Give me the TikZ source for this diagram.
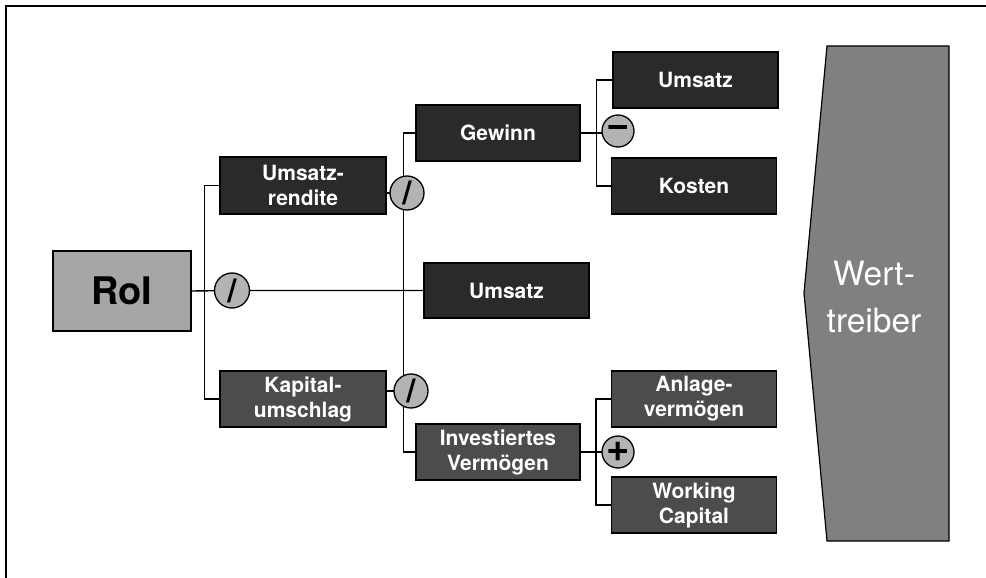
\documentclass[tikz,border=0pt]{standalone}
\usepackage{fontspec}
\setmainfont{TeX Gyre Heros}
\definecolor{boxdark}{HTML}{2A2A2A}
\definecolor{boxmid}{HTML}{4C4C4C}
\definecolor{roifill}{HTML}{A6A6A6}
\definecolor{circfill}{HTML}{B3B3B3}
\definecolor{wertfill}{HTML}{808080}
\begin{document}
\begin{tikzpicture}[x=1pt,y=-1pt,
  basebox/.style={draw=black, line width=1.3pt, text=white, align=center, inner sep=0pt,
    font=\bfseries\fontsize{21}{25}\selectfont, minimum height=56pt},
  darkbox/.style={basebox, fill=boxdark},
  midbox/.style={basebox, fill=boxmid},
  opcirc/.style={circle, draw=black, line width=1.3pt, fill=circfill, inner sep=0pt},
  optext/.style={inner sep=0pt, font=\bfseries\fontsize{33}{33}\selectfont},
  signtext/.style={inner sep=0pt, font=\bfseries\fontsize{40}{40}\selectfont},
  conn/.style={draw=black, line width=1.4pt}]
\useasboundingbox (0,0) rectangle (986,578);
% frame
\coordinate (fa) at (6,578);
\coordinate (fb) at (6,6);
\coordinate (fc) at (986,6);
\draw[line width=1.2pt] (fa) -- (fb) -- (fc);

% nodes
\node[basebox, fill=roifill, text=black, minimum width=138pt, minimum height=80pt,
      font=\bfseries\fontsize{38}{42}\selectfont] (roi) at (122,291) {RoI};
\node[darkbox, minimum width=166pt, minimum height=57pt] (ur) at (303,185.5) {Umsatz-\\rendite};
\node[midbox, minimum width=166pt] (ku) at (303,399) {Kapital-\\umschlag};
\node[darkbox, minimum width=164pt] (gew) at (498,133) {Gewinn};
\node[darkbox, minimum width=165pt, minimum height=55pt] (ums2) at (506.5,290.5) {Umsatz};
\node[midbox, minimum width=164pt] (iv) at (498,452) {Investiertes\\Vermögen};
\node[darkbox, minimum width=165pt] (ums1) at (695.5,80) {Umsatz};
\node[darkbox, minimum width=165pt] (kos) at (694,186) {Kosten};
\node[midbox, minimum width=165pt] (av) at (694,399) {Anlage-\\vermögen};
\node[midbox, minimum width=165pt] (wc) at (694,505) {Working\\Capital};

\coordinate (c0p) at (232,290.5);
\coordinate (c1p) at (407,193);
\coordinate (c2p) at (411,391);
\coordinate (cmp) at (618,131);
\coordinate (cpp) at (618,452);

% connectors
\draw[conn] (ur.west) -- ++(-15,0) |- (ku.west);
\draw[conn] (roi.east) -- (c0p) -- (ums2.west);
\draw[conn] (gew.west) -- ++(-12,0) |- (iv.west);
\draw[conn] (ur.east |- c1p) -- (c1p);
\draw[conn] (ku.east |- c2p) -- (c2p);
\draw[conn] (ums1.west) -- ++(-16,0) |- (kos.west);
\draw[conn] (gew.east) -- (gew.east -| kos.west);
\draw[conn] (av.west) -- ++(-15,0) |- (wc.west);
\draw[conn] (iv.east) -- (iv.east -| wc.west);

% operator circles
\node[opcirc, minimum size=35pt] (c0) at (c0p) {};
\node[optext] at (c0) {/};
\node[opcirc, minimum size=34pt] (c1) at (c1p) {};
\node[optext] at (c1) {/};
\node[opcirc, minimum size=34pt] (c2) at (c2p) {};
\node[optext] at (c2) {/};
\node[opcirc, minimum size=32pt] (cm) at (cmp) {};
\node[signtext] at (cm) {−};
\node[opcirc, minimum size=32pt] (cp) at (cpp) {};
\node[signtext] at (cp) {+};

% Werttreiber shape
\coordinate (w1) at (827,46);
\coordinate (w2) at (949,46);
\coordinate (w3) at (949,541);
\coordinate (w4) at (827,541);
\coordinate (w5) at (804,293);
\draw[line width=1.2pt, fill=wertfill] (w1) -- (w2) -- (w3) -- (w4) -- (w5) -- cycle;
\node[text=white, align=center, font=\fontsize{33.5}{47}\selectfont] (wt) at (874,297) {Wert-\\treiber};
\end{tikzpicture}
\end{document}
